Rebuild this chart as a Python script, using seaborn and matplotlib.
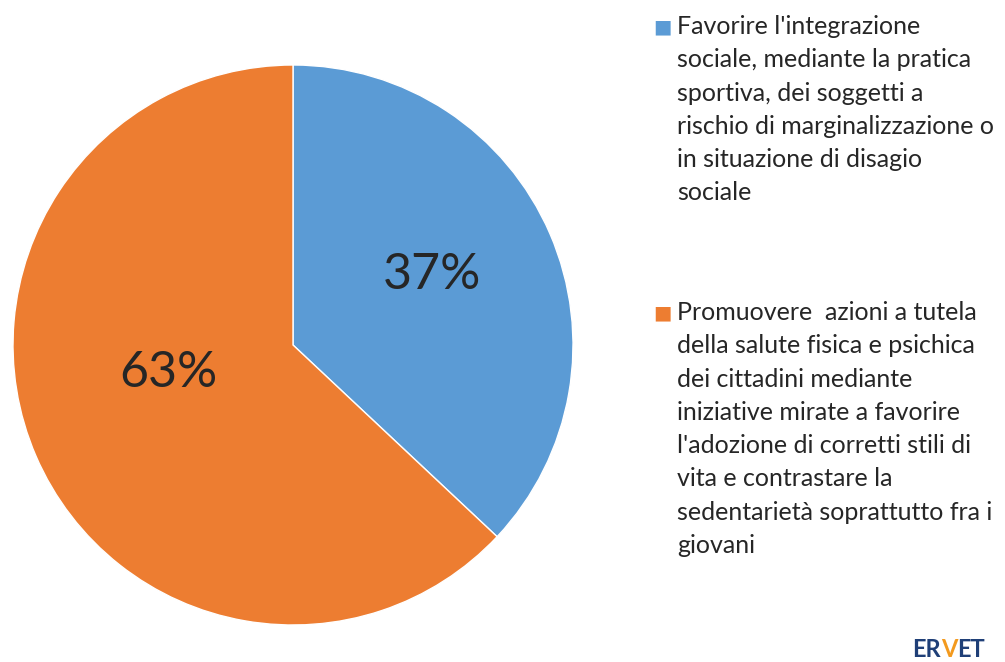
import matplotlib
matplotlib.use('Agg')
import matplotlib.pyplot as plt
import seaborn as sns

# data
categories = [
    "Favorire l'integrazione\nsociale, mediante la pratica\nsportiva, dei soggetti a\n"
    "rischio di marginalizzazione o\nin situazione di disagio\nsociale",
    "Promuovere  azioni a tutela\ndella salute fisica e psichica\ndei cittadini mediante\n"
    "iniziative mirate a favorire\nl'adozione di corretti stili di\nvita e contrastare la\n"
    "sedentarietà soprattutto fra i\ngiovani",
]
values = [37, 63]
colors = ["#5B9BD5", "#ED7D31"]

sns.set_theme(style="white")
plt.rcParams['font.family'] = ['Lato', 'DejaVu Sans']

W, H = 1005, 662
fig = plt.figure(figsize=(W / 100, H / 100), dpi=100)
fig.patch.set_facecolor('white')

# pie axes: centre ~ (293, 345) px, radius ~280 px
ax = fig.add_axes([13 / W, (H - 345 - 280) / H, 560 / W, 560 / H])
wedges, texts, autotexts = ax.pie(
    values, colors=colors, startangle=90, counterclock=False,
    autopct='%d%%', pctdistance=0.5, radius=1,
    wedgeprops=dict(edgecolor='white', linewidth=1),
    textprops=dict(fontsize=36, color='#262626'),
)
# nudge the percentage labels to where the original has them
label_pos = [(0.495, 0.25), (-0.445, -0.10)]
for t, p in zip(autotexts, label_pos):
    t.set_position(p)
ax.set_xlim(-1, 1)
ax.set_ylim(-1, 1)
ax.axis('off')

# legend as text blocks with square markers
legend_rows = [27, 313]
for lab, col, row in zip(categories, colors, legend_rows):
    fig.text(662 / W, 1 - row / H, "■", color=col, fontsize=14,
             va='center', ha='center', family='DejaVu Sans')
    fig.text(677 / W, 1 - (row - 12) / H, lab, color='#262626',
             fontsize=18, va='top', ha='left', linespacing=1.54)

# ERVET logo text
t1 = fig.text(912 / W, 1 - 657 / H, "ER", color='#1F3F77', fontsize=17,
              fontweight='bold', va='baseline', ha='left')
t2 = fig.text(0, 0, "V", color='#F39A1E', fontsize=17, fontweight='bold',
              va='baseline', ha='left')
t3 = fig.text(0, 0, "ET", color='#1F3F77', fontsize=17, fontweight='bold',
              va='baseline', ha='left')
fig.canvas.draw()
r = fig.canvas.get_renderer()
bb1 = t1.get_window_extent(r)
t2.set_position((bb1.x1 / W, 1 - 657 / H))
bb2 = t2.get_window_extent(r)
t3.set_position((bb2.x1 / W, 1 - 657 / H))

fig.savefig('out.png', dpi=100)
plt.close(fig)
